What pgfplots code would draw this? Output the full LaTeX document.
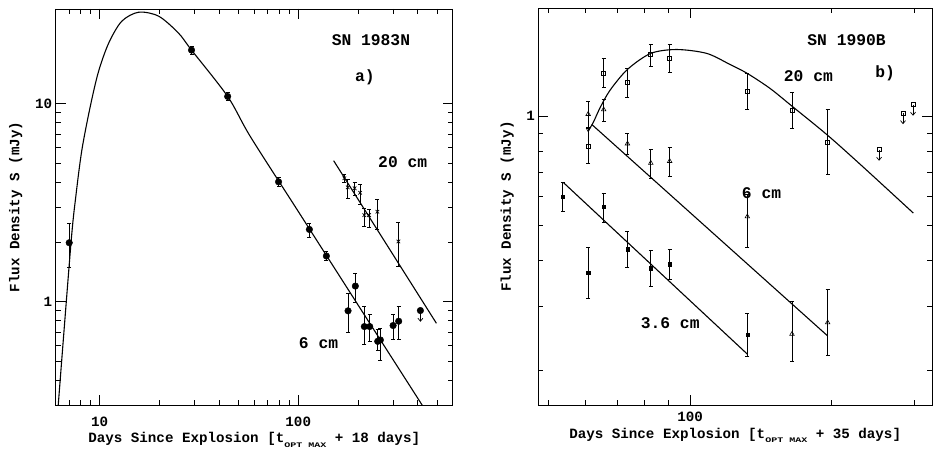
\documentclass[border=0pt]{standalone}
\usepackage{fontspec}
\setmainfont{Liberation Mono}
\usepackage{graphicx}
\usepackage{pgfplots}
\pgfplotsset{compat=1.18}
\usetikzlibrary{arrows.meta}

\newcommand{\ann}{\fontsize{16.3}{18}\selectfont\bfseries}
\newcommand{\lab}{\fontsize{14.2}{16}\selectfont\bfseries}
\newcommand{\opt}{\raisebox{-0.6ex}{\scalebox{1}[0.7]{\fontsize{10}{11}\selectfont\bfseries OPT MAX}}}

\begin{document}
\begin{tikzpicture}
\useasboundingbox (0,0) rectangle (933pt,451pt);

% ---- a) SN 1983N
\begin{axis}[
  xmode=log, ymode=log, scale only axis,
  at={(55.7pt,46pt)}, anchor=south west,
  width=397pt, height=396pt,
  xmin=6, xmax=600, ymin=0.3, ymax=30,
  axis line style={line width=0.8pt},
  major tick length=10pt, minor tick length=5pt,
  every tick/.append style={black, line width=0.6pt},
  log ticks with fixed point,
  /pgf/number format/assume math mode=true,
  tick label style={font=\lab},
  label style={font=\lab},
  xlabel={Days Since Explosion [t\opt{} + 18 days]},
  ylabel={Flux Density S (mJy)},
  xlabel style={at={(axis description cs:0.5,0)}, anchor=center, yshift=-35pt},
  ylabel style={at={(axis description cs:0,0.5)}, anchor=center, yshift=40pt},
  xticklabel style={yshift=-8pt},
]
\addplot[black, line width=1.1pt, no marks, smooth] coordinates {
  (6.18,0.3) (7.16,1.96) (7.59,3.44) (8.13,5.83) (8.96,9.66)
  (9.86,14.5) (11.1,20.2) (12.9,26.0) (15.7,28.9) (19.8,27.6) (24.9,22.7)
  (29.0,18.6) (44.1,10.85) (57.4,6.80) (100,2.85) (200,0.961) (420.7,0.300)
};
\addplot[black, line width=1.1pt, no marks] coordinates {(150.8,5.14) (496.6,0.776)};
% 6 cm
\addplot[black, only marks, mark=*, mark size=3.3pt,
  error bars/.cd, y dir=both, y explicit,
  error bar style={line width=0.6pt}, error mark options={rotate=90, mark size=2pt, line width=0.6pt}]
  table[x=d, y=f, y error plus=ep, y error minus=em] {
d f ep em
7.02 1.98 0.50 0.49
29.0 18.6 0.9 0.9
44.1 10.85 0.5 0.5
79.6 4.02 0.2 0.2
113.8 2.31 0.17 0.21
138.6 1.697 0.09 0.09
178.2 0.897 0.197 0.198
194.0 1.196 0.194 0.204
215.3 0.747 0.196 0.141
229.1 0.747 0.119 0.120
251.3 0.629 0.098 0.064
259.3 0.639 0.093 0.137
300.5 0.756 0.110 0.109
320.6 0.795 0.152 0.148
};
\addplot[black, only marks, mark=*, mark size=3.3pt,
  error bars/.cd, y dir=minus, y explicit, error mark=none,
  error bar style={line width=0.7pt, -{Straight Barb[length=3pt,width=5pt]}}]
  coordinates {(412.5,0.90) -= (0,0.11)};
% 20 cm
\addplot[black, only marks, mark=x, mark size=2.5pt, mark options={line width=0.7pt},
  error bars/.cd, y dir=both, y explicit,
  error bar style={line width=0.6pt}, error mark options={rotate=90, mark size=2pt, line width=0.6pt}]
  table[x=d, y=f, y error plus=ep, y error minus=em] {
d f ep em
170.8 4.19 0.21 0.21
177.5 3.77 0.37 0.45
192.5 3.73 0.27 0.28
204.9 3.54 0.36 0.44
215.3 2.73 0.24 0.33
227.5 2.73 0.19 0.35
250.5 2.84 0.46 0.53
319.6 2.01 0.49 0.51
};
\node[font=\ann] at (rel axis cs:0.794,0.922) {SN 1983N};
\node[font=\ann] at (rel axis cs:0.779,0.828) {a)};
\node[font=\ann] at (rel axis cs:0.874,0.613) {20 cm};
\node[font=\ann] at (rel axis cs:0.662,0.155) {6 cm};
\end{axis}

% ---- b) SN 1990B
\begin{axis}[
  xmode=log, ymode=log, scale only axis,
  at={(538.3pt,46pt)}, anchor=south west,
  width=393.7pt, height=396.7pt,
  xmin=47.55, xmax=327.3, ymin=0.16, ymax=1.984,
  xtick={100}, minor xtick={50,60,70,80,90,200,300},
  ytick={1}, minor ytick={0.2,0.3,0.4,0.5,0.6,0.7,0.8,0.9},
  axis line style={line width=0.8pt},
  major tick length=10pt, minor tick length=5pt,
  every tick/.append style={black, line width=0.6pt},
  log ticks with fixed point,
  /pgf/number format/assume math mode=true,
  tick label style={font=\lab},
  label style={font=\lab},
  xlabel={Days Since Explosion [t\opt{} + 35 days]},
  ylabel={Flux Density S (mJy)},
  xlabel style={at={(axis description cs:0.5,0)}, anchor=center, yshift=-30.5pt},
  ylabel style={at={(axis description cs:0,0.5)}, anchor=center, yshift=31pt},
  xticklabel style={yshift=-3pt},
]
\addplot[black, line width=1.1pt, no marks, smooth] coordinates {
  (60.7,0.909) (62.3,0.964) (64.4,1.057) (67.6,1.180) (73.6,1.346)
  (82.5,1.490) (93.7,1.527) (108.5,1.490) (121.6,1.389) (132.4,1.312)
  (148.0,1.193) (164.8,1.066) (196.3,0.886) (233.7,0.724) (298.6,0.541)
};
\addplot[black, line width=1.1pt, no marks] coordinates {(61.8,0.949) (196.3,0.248)};
\addplot[black, line width=1.1pt, no marks] coordinates {(53.8,0.656) (132.4,0.221)};
% 20 cm
\addplot[black, only marks, mark=square, mark size=2pt, mark options={line width=0.6pt},
  error bars/.cd, y dir=both, y explicit,
  error bar style={line width=0.6pt}, error mark options={rotate=90, mark size=2pt, line width=0.6pt}]
  table[x=d, y=f, y error plus=ep, y error minus=em] {
d f ep em
60.7 0.828 0.103 0.088
65.5 1.317 0.126 0.115
73.6 1.239 0.115 0.111
82.5 1.477 0.103 0.100
90.5 1.443 0.137 0.123
132.4 1.175 0.142 0.128
164.8 1.039 0.124 0.114
196.3 0.849 0.194 0.159
};
\addplot[black, only marks, mark=square, mark size=2pt, mark options={line width=0.6pt},
  error bars/.cd, y dir=minus, y explicit, error mark=none,
  error bar style={line width=0.7pt, -{Straight Barb[length=3pt,width=5pt]}}]
  coordinates {(252.5,0.809) -= (0,0.055) (283.9,1.021) -= (0,0.07) (298.2,1.077) -= (0,0.074)};
% 6 cm
\addplot[black, only marks, mark=triangle, mark size=2.6pt, mark options={line width=0.6pt},
  error bars/.cd, y dir=both, y explicit,
  error bar style={line width=0.6pt}, error mark options={rotate=90, mark size=2pt, line width=0.6pt}]
  table[x=d, y=f, y error plus=ep, y error minus=em] {
d f ep em
60.7 1.013 0.089 0.082
65.5 1.043 0.069 0.076
73.6 0.840 0.059 0.055
82.5 0.743 0.068 0.069
90.5 0.752 0.071 0.068
132.4 0.529 0.080 0.094
164.8 0.251 0.058 0.040
196.3 0.270 0.064 0.050
};
\addplot[black, only marks, mark=triangle, mark size=2pt, mark options={rotate=180, line width=0.6pt}]
  coordinates {(60.7,0.919)};
% 3.6 cm
\addplot[black, only marks, mark=square*, mark size=1.6pt,
  error bars/.cd, y dir=both, y explicit,
  error bar style={line width=0.6pt}, error mark options={rotate=90, mark size=2pt, line width=0.6pt}]
  table[x=d, y=f, y error plus=ep, y error minus=em] {
d f ep em
53.6 0.599 0.057 0.052
60.7 0.370 0.065 0.055
65.5 0.562 0.053 0.052
73.6 0.430 0.053 0.047
82.5 0.381 0.046 0.042
90.5 0.391 0.038 0.036
132.4 0.250 0.037 0.032
};
\node[font=\ann] at (rel axis cs:0.783,0.920) {SN 1990B};
\node[font=\ann] at (rel axis cs:0.881,0.837) {b)};
\node[font=\ann] at (rel axis cs:0.686,0.828) {20 cm};
\node[font=\ann] at (rel axis cs:0.567,0.535) {6 cm};
\node[font=\ann] at (rel axis cs:0.335,0.207) {3.6 cm};
\end{axis}
\end{tikzpicture}
\end{document}
